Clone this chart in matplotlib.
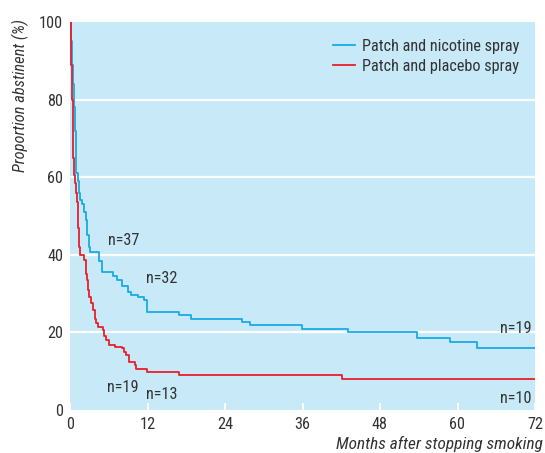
import matplotlib
matplotlib.use("Agg")
import matplotlib.pyplot as plt

plt.rcParams['font.family'] = ['Liberation Sans Narrow', 'Roboto Condensed', 'DejaVu Sans']
plt.rcParams['font.stretch'] = 'condensed'

# Kaplan-Meier style step data (months, % abstinent)
nicotine_t = [0, 0.15, 0.3, 0.45, 0.6, 0.75, 0.9, 1.0, 1.2, 1.4, 1.6, 1.8, 2.1, 2.5,
              2.7, 2.9, 3.1, 4.5, 5.0, 6.7, 7.3, 8.0, 9.0, 9.5, 10.5, 11.5, 11.9,
              16.9, 18.8, 26.7, 27.9, 35.9, 43.0, 53.8, 58.8, 63.0, 72]
nicotine_p = [100, 95, 89, 84, 78, 72, 66, 61, 59, 56, 54, 53, 51, 49,
              45, 42, 40.8, 38.5, 35.5, 34.6, 33.5, 32.0, 30.5, 29.7, 29.0, 28.3, 25.3,
              24.4, 23.4, 22.7, 21.9, 20.9, 20.0, 18.6, 17.5, 16.0, 16.0]

placebo_t = [0, 0.1, 0.2, 0.3, 0.4, 0.5, 0.57, 0.8, 0.95, 1.1, 1.2, 1.3, 1.35, 1.45,
             1.6, 2.1, 2.4, 2.5, 2.6, 2.8, 3.0, 3.2, 3.5, 3.8, 4.1, 4.4, 5.1, 5.3,
             5.5, 6.0, 7.0, 8.0, 8.3, 8.6, 9.1, 10.0, 10.2, 11.9, 16.9, 42.1, 72]
placebo_p = [100, 94, 89, 80, 72, 65, 60.6, 58.5, 56, 53.7, 50, 47, 45.6, 42,
             40, 38.7, 36.9, 35, 33.5, 30.9, 29, 27.5, 25.8, 23.5, 22.5, 21.5, 20.6, 19,
             18, 16.8, 16.3, 15.9, 15, 14.2, 12.4, 11.6, 10.5, 9.9, 9.0, 8.0, 8.0]

xticks = [0, 12, 24, 36, 48, 60, 72]
yticks = [0, 20, 40, 60, 80, 100]

txt = '#333333'
fs = 11.7
fig = plt.figure(figsize=(5.45, 4.53), dpi=100)
ax = fig.add_axes([70/545, 1-410/453, 465/545, 388/453])
ax.set_facecolor('#c7e9f8')
for s in ax.spines.values():
    s.set_visible(False)

for g in [20, 40, 60, 80]:
    ax.axhline(g, color='white', lw=1.6, zorder=1)

ax.step(nicotine_t, nicotine_p, where='post', color='#1ba9e6', lw=1.3, zorder=3,
        label='Patch and nicotine spray')
ax.step(placebo_t, placebo_p, where='post', color='#e8202a', lw=1.3, zorder=3,
        label='Patch and placebo spray')

ax.set_xlim(0, 72)
ax.set_ylim(0, 100)
ax.set_xticks(xticks)
ax.set_yticks(yticks)
ax.tick_params(axis='x', direction='in', color='white', length=5, width=1.5,
               labelsize=fs, labelcolor=txt, pad=5)
ax.tick_params(axis='y', length=0, labelsize=fs, labelcolor=txt, pad=5)

ax.text(5.9, 43.6, 'n=37', fontsize=fs, color=txt, va='center')
ax.text(11.8, 34.0, 'n=32', fontsize=fs, color=txt, va='center')
ax.text(5.7, 5.7, 'n=19', fontsize=fs, color=txt, va='center')
ax.text(11.8, 3.9, 'n=13', fontsize=fs, color=txt, va='center')
ax.text(71.5, 21.0, 'n=19', fontsize=fs, color=txt, va='center', ha='right')
ax.text(71.5, 3.0, 'n=10', fontsize=fs, color=txt, va='center', ha='right')

leg = ax.legend(loc='upper left', bbox_to_anchor=(0.566, 0.957), frameon=False,
                fontsize=fs, handlelength=1.35, handletextpad=0.43,
                borderaxespad=0, borderpad=0, labelspacing=0.3)
for t in leg.get_texts():
    t.set_color(txt)

fig.text(0.037, 1-96/453, 'Proportion abstinent (%)', rotation=90, style='italic',
         fontsize=11.8, color=txt, ha='center', va='center')
fig.text(543/545, 1-449/453, 'Months after stopping smoking', style='italic',
         fontsize=12.4, color=txt, ha='right', va='baseline')

fig.savefig('out.png', dpi=100)
